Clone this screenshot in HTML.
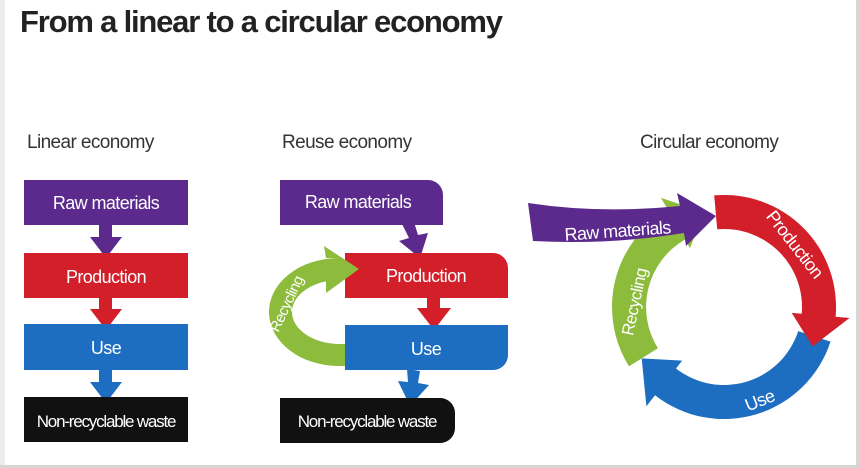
<!DOCTYPE html>
<html><head><meta charset="utf-8"><style>
html,body{margin:0;padding:0;background:#fff;}
body{width:860px;height:468px;overflow:hidden;}
svg{display:block;font-family:"Liberation Sans",sans-serif;}
</style></head><body>
<svg width="860" height="468" viewBox="0 0 860 468">
<rect x="0" y="0" width="860" height="468" fill="#fff"/>
<rect x="0" y="0" width="5" height="468" fill="#ececec"/>
<rect x="856" y="0" width="4" height="468" fill="#d6d6d6"/>
<rect x="0" y="465" width="860" height="3" fill="#d6d6d6"/>
<text x="20" y="32" font-size="31" font-weight="bold" fill="#222" letter-spacing="-1.2">From a linear to a circular economy</text>
<g font-size="19" fill="#333" letter-spacing="-0.6">
<text x="27" y="148">Linear economy</text>
<text x="282" y="148">Reuse economy</text>
<text x="640" y="148">Circular economy</text>
</g>
<!-- Linear -->
<rect x="24" y="180" width="164" height="45" fill="#5b2a8c"/>
<path d="M99,225 h13 v12 h10 l-16,21 l-16,-21 h9z" fill="#5b2a8c"/>
<rect x="24" y="253" width="164" height="45" fill="#d21f2a"/>
<path d="M99,297 h13 v12 h10 l-16,21 l-16,-21 h9z" fill="#d21f2a"/>
<rect x="24" y="324" width="164" height="46" fill="#1d6ec1"/>
<path d="M99,369 h13 v13 h10 l-16,21 l-16,-21 h9z" fill="#1d6ec1"/>
<rect x="24" y="397" width="164" height="45" fill="#111"/>
<g font-size="18" fill="#fff" text-anchor="middle" letter-spacing="-0.6">
<text x="106" y="209">Raw materials</text>
<text x="106" y="283">Production</text>
<text x="106" y="354">Use</text>
<text x="106" y="427" letter-spacing="-1.2" font-size="17">Non-recyclable waste</text>
</g>
<!-- Reuse -->
<path d="M280,180 h148 a15,15 0 0 1 15,15 v30 h-163z" fill="#5b2a8c"/>
<path d="M402,224 l12,-2 l4,13 l10,-2 l-8,25 l-21,-17 l10,-3z" fill="#5b2a8c"/>
<path d="M345,253 h148 a15,15 0 0 1 15,15 v30 h-163z" fill="#d21f2a"/>
<path d="M427,297 h13 v11 h11 l-17,22 l-17,-22 h10z" fill="#d21f2a"/>
<path d="M345,325 h163 v30 a15,15 0 0 1 -15,15 h-148z" fill="#1d6ec1"/>
<path d="M407,369 l13,2 l-2,12 l11,2 l-19,21 l-12,-25 l10,1z" fill="#1d6ec1"/>
<path d="M280,398 h160 a15,15 0 0 1 15,15 v15 a15,15 0 0 1 -15,15 h-160z" fill="#111"/>
<path d="M345,366 L340,366 A70,54 0 0 1 338,258 L326,258 L324,246 L359,269 L326,293 L326,280 L340,280 A48,32 0 0 0 340,344 L345,344 Z" fill="#8dbb3c"/>
<g font-size="18" fill="#fff" text-anchor="middle" letter-spacing="-0.6">
<text x="358" y="208">Raw materials</text>
<text x="426" y="282">Production</text>
<text x="426" y="355">Use</text>
<text x="367" y="427" letter-spacing="-1.2" font-size="17">Non-recyclable waste</text>
<text x="0" y="0" font-size="15" transform="translate(291,306) rotate(-65)">Recycling</text>
</g>
<!-- Circular -->
<path d="M629,366.3 A112,112 0 0 1 668,210 L661,197.9 L703.8,212.1 L690,248.1 L685,239.5 A78,78 0 0 0 657.9,348.3 Z" fill="#8dbb3c"/>
<path d="M830.5,341.6 A112,112 0 0 1 655,395.3 L646.4,406.3 L641.7,358.4 L682.1,360.6 L676,368.5 A78,78 0 0 0 798.2,331.1 Z" fill="#1d6ec1"/>
<path d="M714.2,195.4 A112,112 0 0 1 835.6,316.8 L849.5,318 L812.6,346.4 L791.7,312.9 L801.7,313.8 A78,78 0 0 0 717.2,229.3 Z" fill="#d21f2a"/>
<path d="M528,203 Q600,214 680,206 L677,193 L716,216 L686,246 L684,233 Q610,245 533,241 Z" fill="#5b2a8c"/>
<g font-size="18" fill="#fff" text-anchor="middle" letter-spacing="-0.6">
<text x="0" y="0" transform="translate(618,237) rotate(-4)">Raw materials</text>
<text x="0" y="0" transform="translate(790,248) rotate(52)">Production</text>
<text x="0" y="0" transform="translate(762,406) rotate(-22)">Use</text>
<text x="0" y="0" font-size="17" transform="translate(640,303) rotate(-78)">Recycling</text>
</g>
</svg>
</body></html>
